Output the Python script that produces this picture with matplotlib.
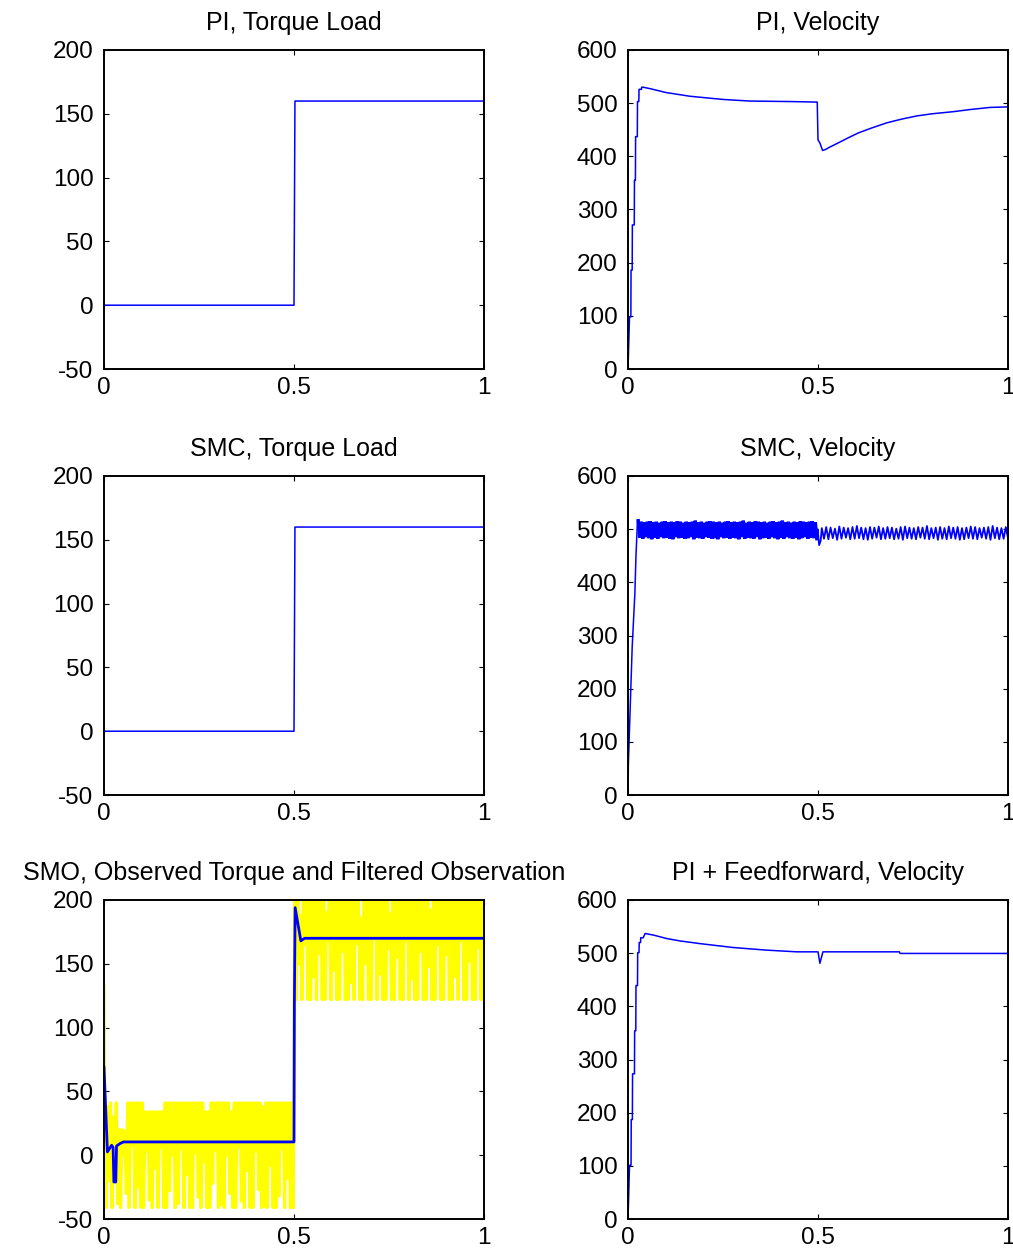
import numpy as np
import matplotlib
matplotlib.use("Agg")
import matplotlib.pyplot as plt

plt.rcParams['font.family'] = ['Liberation Sans', 'DejaVu Sans']

# torque load step (same for PI and SMC)
torque_t = [0, 0.5, 0.5025, 1]
torque_load = [0, 0, 160, 160]

# PI velocity
pi_vel_t = [0, 0.001, 0.004, 0.0075, 0.008, 0.011, 0.0115, 0.0165, 0.017, 0.0195, 0.020,
            0.0245, 0.025, 0.0285, 0.029, 0.0355, 0.036, 0.040, 0.06, 0.10, 0.163, 0.25,
            0.32, 0.43, 0.498, 0.500, 0.505, 0.512, 0.52, 0.53, 0.558, 0.58, 0.606, 0.64,
            0.681, 0.72, 0.760, 0.80, 0.856, 0.90, 0.953, 1.0]
pi_vel = [0, 23, 98, 98, 186, 186, 271, 271, 355, 355, 437,
          437, 503, 503, 526, 526, 530, 530, 527, 520, 513, 507,
          504, 503, 502, 431, 425, 411, 413, 417, 427, 435, 444, 453,
          463, 470, 476, 480, 484, 488, 492, 493]

# PI + feedforward velocity
ff_vel_t = [0, 0.001, 0.004, 0.008, 0.0085, 0.0115, 0.012, 0.017, 0.0175, 0.0205, 0.021,
            0.025, 0.0255, 0.029, 0.0295, 0.033, 0.0335, 0.040, 0.045, 0.067, 0.102,
            0.137, 0.189, 0.277, 0.365, 0.444, 0.500, 0.505, 0.513, 0.714, 0.716, 1.0]
ff_vel = [0, 23, 101, 101, 187, 187, 273, 273, 354, 354, 439,
          439, 501, 501, 520, 520, 529, 529, 537, 534, 527.5,
          523, 518, 510.6, 505.7, 502.5, 502.5, 481, 502.5, 502.5, 499.5, 499.5]

# SMC velocity: rise, chattering band (0.027-0.497), dip, oscillation (0.51-1)
smc_rise_t = [0, 0.001, 0.007, 0.011, 0.018, 0.021, 0.025]
smc_rise = [0, 59, 191, 278, 378, 450, 517]
smc_band_hi = [516, 514, 513, 514, 515, 513, 514, 512, 514, 515, 513, 514, 513, 515, 514,
               512, 514, 513, 514, 516, 513, 514, 512, 514, 515, 514, 513, 514, 512, 514,
               515, 513, 514, 513, 514, 516, 512, 514, 513, 515, 514, 513, 514, 512, 514,
               515, 513, 514, 516, 513, 514, 512, 514, 513, 515, 514, 513, 514, 515, 513]
smc_band_lo = [484, 482, 485, 483, 481, 484, 482, 485, 483, 484, 482, 481, 485, 483, 484,
               482, 483, 485, 481, 484, 483, 482, 485, 484, 482, 483, 481, 485, 483, 484,
               482, 484, 483, 481, 485, 482, 484, 483, 482, 485, 481, 483, 484, 482, 485,
               483, 481, 484, 482, 485, 483, 482, 484, 481, 483, 485, 482, 484, 483, 482]
smc_dip_t = [0.499, 0.503, 0.507]
smc_dip = [500, 470, 478]
smc_osc_peak = [502, 504, 503, 501, 505, 503, 502, 504, 506, 503, 502, 504, 503, 505, 502,
                504, 503, 501, 504, 505, 503, 502, 504, 503, 506, 502, 503, 504, 502, 505,
                503, 504, 502, 503, 505, 504, 502, 503, 504, 506, 503, 502, 504]
smc_osc_trough = [482, 481, 483, 480, 482, 484, 481, 482, 483, 481, 480, 482, 484, 481, 482,
                  483, 481, 482, 480, 483, 482, 481, 484, 482, 481, 483, 480, 482, 481, 483,
                  482, 480, 481, 483, 482, 481, 484, 482, 480, 483, 481, 482, 483]

# SMO observed torque (yellow), tops and bottoms of the chattering
smo_obs_start = 133
smo_low_top = [41, 38, 41, 30, 41, 20, 20, 19, 41, 41, 41, 41, 41, 41, 34, 34, 34, 34, 34, 34,
               34, 41, 41, 41, 41, 41, 41, 41, 41, 41, 41, 41, 41, 41, 41, 34, 34, 41, 41, 41,
               41, 41, 41, 41, 34, 41, 41, 41, 41, 41, 41, 41, 41, 41, 41, 38, 41, 41, 41, 41,
               41, 41, 41, 41, 41, 41]
smo_low_bot = [-41, -20, -41, 5, -38, -41, 0, -30, -41, 8, -41, -25, -41, -41, 3, -35, -41, -10,
               -41, 6, -41, -41, -28, 0, -41, -38, 5, -41, -15, -41, -41, 2, -33, -41, -5, -41,
               -41, -22, 4, -41, -39, -41, 0, -30, -41, -41, 6, -36, -41, -12, -41, -41, 3, -27,
               -41, -40, -41, -8, -41, -41, -32, 5, -41, -18, -41, -41]
smo_high_top = [215, 215, 188, 215, 215, 215, 215, 215, 215, 215, 215, 190, 215, 215, 215, 215,
                215, 215, 215, 215, 215, 215, 215, 186, 215, 215, 215, 215, 215, 215, 215, 215,
                215, 189, 215, 215, 215, 215, 215, 215, 215, 215, 215, 215, 215, 215, 215, 192,
                215, 215, 215, 215, 215, 215, 215, 215, 215, 215, 215, 215, 215, 215, 215, 215,
                215, 215]
smo_high_bot = [122, 150, 122, 165, 122, 122, 140, 122, 158, 122, 122, 168, 122, 145, 122, 122,
                160, 122, 122, 135, 122, 166, 122, 122, 150, 122, 122, 170, 122, 142, 122, 122,
                162, 122, 122, 155, 122, 122, 168, 122, 138, 122, 122, 160, 122, 122, 148, 122,
                122, 165, 122, 122, 157, 122, 122, 140, 122, 168, 122, 122, 152, 122, 122, 163,
                122, 122]

# SMO filtered observation (blue)
smo_filt_t = [0, 0.009, 0.020, 0.024, 0.026, 0.031, 0.033, 0.042, 0.051, 0.5, 0.501, 0.503,
              0.518, 0.528, 1.0]
smo_filt = [69, 2.6, 7.8, 6, -21, -21, 7.2, 9.1, 10.4, 10.4, 120, 194, 168, 170, 170]


def zigzag(t0, t1, first, second):
    vals = np.column_stack([first, second]).ravel()
    return np.linspace(t0, t1, len(vals)), vals


def style(ax, title, ylim, yticks):
    ax.set_xlim(0, 1)
    ax.set_ylim(*ylim)
    ax.set_xticks([0, 0.5, 1])
    ax.set_xticklabels(['0', '0.5', '1'])
    ax.set_yticks(yticks)
    ax.set_yticklabels([str(v) for v in yticks])
    ax.tick_params(direction='in', top=True, right=True, length=3.6, width=0.8,
                   labelsize=17.5, colors='black')
    ax.tick_params(axis='y', pad=7.5)
    ax.tick_params(axis='x', pad=5.5)
    for s in ax.spines.values():
        s.set_linewidth(1.4)
    ax.set_title(title, fontsize=18, pad=14.5)


fig = plt.figure(figsize=(10.13, 12.58), dpi=100)
W = 380 / 1013
H = 319 / 1258
lefts = [104 / 1013, 628 / 1013]
bottoms = [1 - 369 / 1258, 1 - 795 / 1258, 1 - 1219 / 1258]

torque_ticks = [-50, 0, 50, 100, 150, 200]
vel_ticks = [0, 100, 200, 300, 400, 500, 600]

# PI torque load
ax = fig.add_axes([lefts[0], bottoms[0], W, H])
ax.plot(torque_t, torque_load, color='blue', lw=1.1)
style(ax, 'PI, Torque Load', (-50, 200), torque_ticks)

# PI velocity
ax = fig.add_axes([lefts[1], bottoms[0], W, H])
ax.plot(pi_vel_t, pi_vel, color='blue', lw=1.1)
style(ax, 'PI, Velocity', (0, 600), vel_ticks)

# SMC torque load
ax = fig.add_axes([lefts[0], bottoms[1], W, H])
ax.plot(torque_t, torque_load, color='blue', lw=1.1)
style(ax, 'SMC, Torque Load', (-50, 200), torque_ticks)

# SMC velocity
ax = fig.add_axes([lefts[1], bottoms[1], W, H])
bt, bv = zigzag(0.027, 0.497, smc_band_hi, smc_band_lo)
ot, ov = zigzag(0.51, 1.0, smc_osc_peak, smc_osc_trough)
ax.plot(np.concatenate([smc_rise_t, bt[:1]]), np.concatenate([smc_rise, bv[:1]]),
        color='blue', lw=1.1)
ax.plot(bt, bv, color='blue', lw=2.4, solid_joinstyle='miter')
ax.plot(np.concatenate([bt[-1:], smc_dip_t, ot]), np.concatenate([bv[-1:], smc_dip, ov]),
        color='blue', lw=1.3)
style(ax, 'SMC, Velocity', (0, 600), vel_ticks)

# SMO observed torque and filtered observation
ax = fig.add_axes([lefts[0], bottoms[2], W, H])
lt, lv = zigzag(0.002, 0.498, smo_low_top, smo_low_bot)
ht, hv = zigzag(0.502, 1.0, smo_high_top, smo_high_bot)
yt = np.concatenate([[0], lt, ht])
yv = np.concatenate([[smo_obs_start], lv, hv])
ax.plot(yt, yv, color='yellow', lw=2.3)
ax.plot(smo_filt_t, smo_filt, color='blue', lw=2)
style(ax, 'SMO, Observed Torque and Filtered Observation', (-50, 200), torque_ticks)

# PI + feedforward velocity
ax = fig.add_axes([lefts[1], bottoms[2], W, H])
ax.plot(ff_vel_t, ff_vel, color='blue', lw=1.1)
style(ax, 'PI + Feedforward, Velocity', (0, 600), vel_ticks)

fig.savefig('out.png', dpi=100)
